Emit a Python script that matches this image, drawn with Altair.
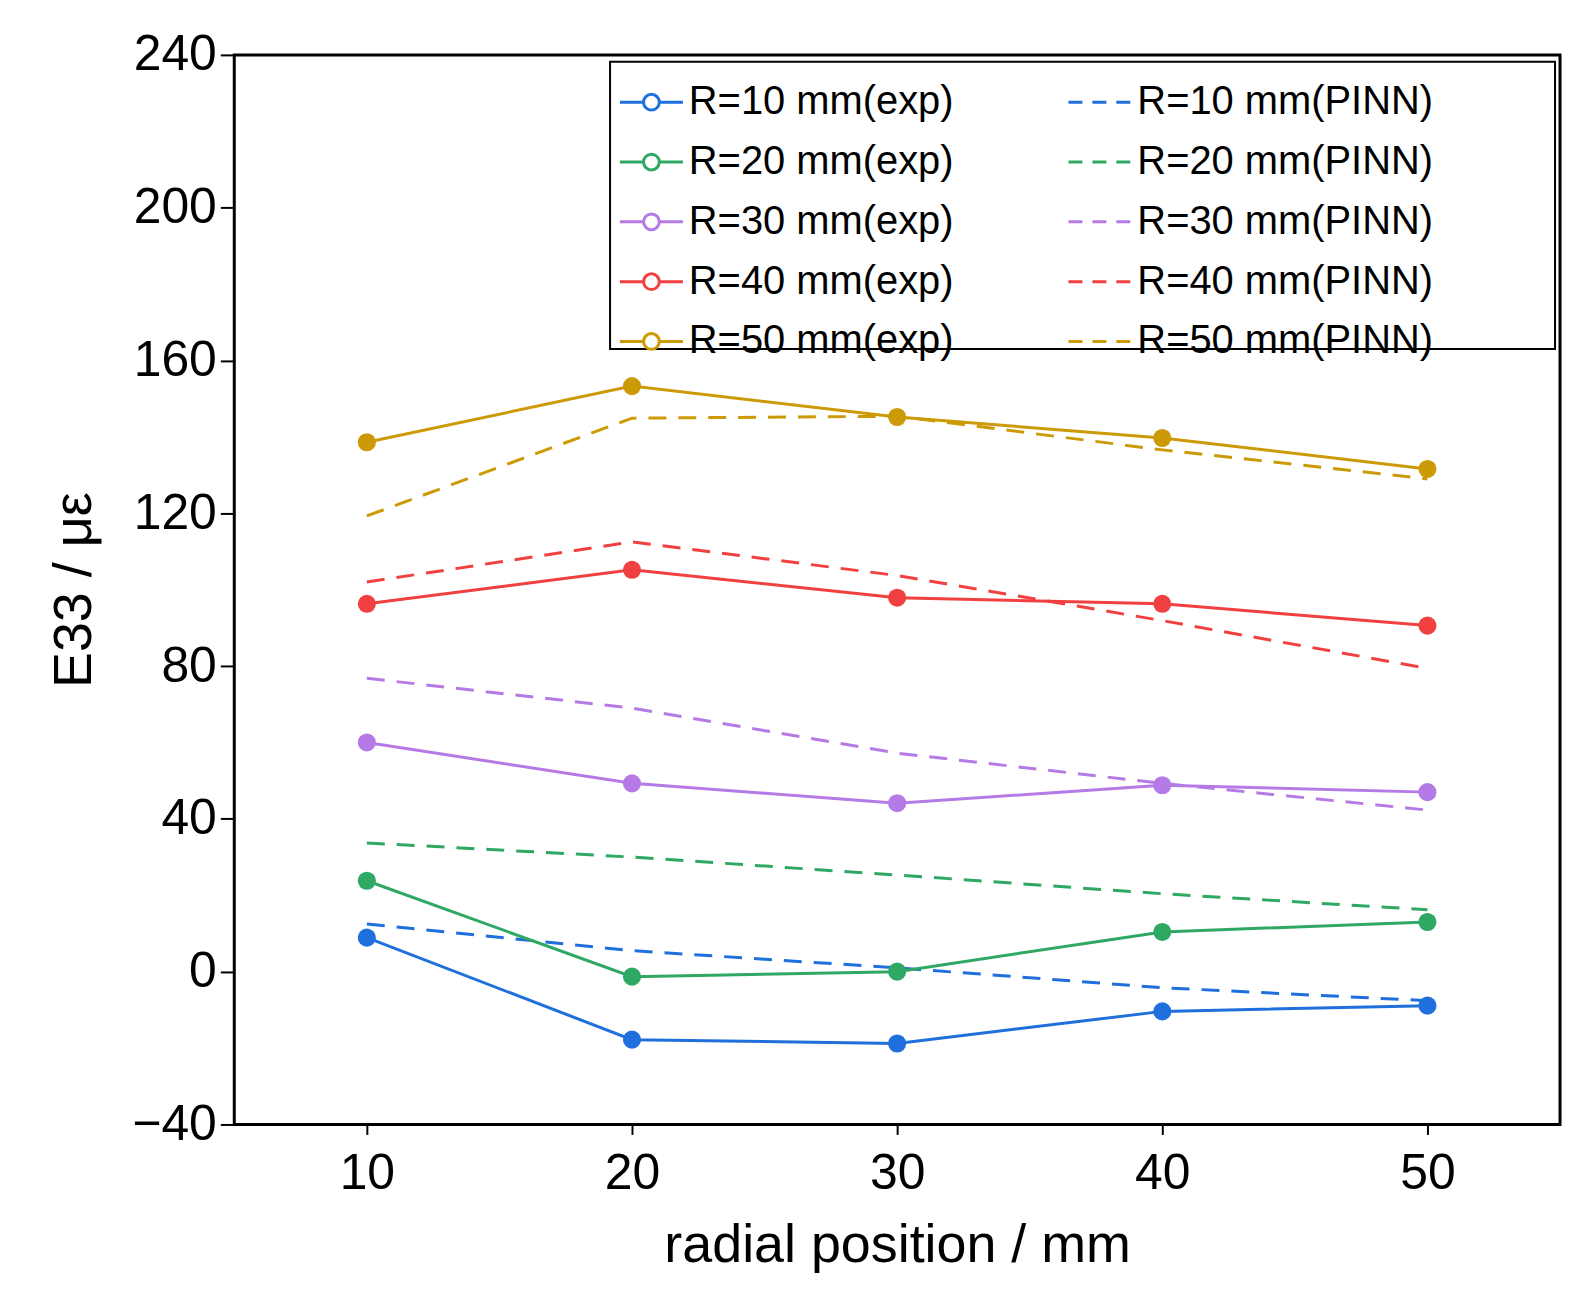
import altair as alt
import pandas as pd

x_pos = [10, 20, 30, 40, 50]
radii = ["R=10 mm", "R=20 mm", "R=30 mm", "R=40 mm", "R=50 mm"]
colors = ["#1f6fdc", "#2fa864", "#b57ae6", "#f04040", "#cc9a06"]

exp_vals = [
    [8.9, -17.8, -18.8, -10.4, -8.9],
    [23.8, -1.3, 0.0, 10.4, 13.0],
    [60.0, 49.3, 44.1, 48.8, 47.0],
    [96.3, 105.2, 97.9, 96.3, 90.6],
    [138.6, 153.3, 145.2, 139.7, 131.6],
]
pinn_vals = [
    [12.5, 5.5, 1.0, -4.2, -7.6],
    [33.7, 30.0, 25.3, 20.4, 16.2],
    [76.8, 69.0, 57.2, 49.3, 42.3],
    [102.0, 112.5, 103.7, 91.9, 79.4],
    [119.3, 144.9, 145.4, 136.6, 129.0],
]

rows = []
for r, ev, pv in zip(radii, exp_vals, pinn_vals):
    for x, e, p in zip(x_pos, ev, pv):
        rows.append({"x": x, "exp": r + "(exp)", "pinn": r + "(PINN)", "e": e, "p": p})
df = pd.DataFrame(rows)

FONT = "Liberation Sans"
W, H = 1330, 1073
xs = alt.Scale(domain=[5, 55], nice=False)
ys = alt.Scale(domain=[-40, 240], nice=False)
xax = alt.Axis(values=x_pos, grid=False, labelFontSize=50, titleFontSize=54,
               titleFontWeight="normal", titlePadding=20, labelPadding=14,
               tickSize=10, domain=False, tickWidth=2, tickColor="black",
               labelColor="black", titleColor="black", labelFont=FONT, titleFont=FONT)
yax = alt.Axis(values=list(range(-40, 241, 40)), grid=False, labelFontSize=50,
               titleFontSize=54, titleFontWeight="normal", titlePadding=30,
               labelPadding=4, tickSize=14, domain=False, tickWidth=2,
               tickColor="black", labelColor="black", titleColor="black",
               labelFont=FONT, titleFont=FONT)

circle_line = "M-1,0L-0.25,0M0.25,0L1,0M-0.25,0A0.25,0.25 0 1,1 0.25,0A0.25,0.25 0 1,1 -0.25,0Z"

exp_leg = alt.Legend(title=None, orient="none", legendX=385, legendY=14,
                     labelFontSize=40, labelFont=FONT, symbolType=circle_line,
                     symbolSize=4000, symbolStrokeWidth=3, rowPadding=6,
                     labelColor="black", labelLimit=400)
pinn_leg = alt.Legend(title=None, orient="none", legendX=835, legendY=14,
                      labelFontSize=40, labelFont=FONT, symbolType="stroke",
                      symbolSize=4000, symbolStrokeWidth=3, symbolDash=[14, 10],
                      rowPadding=6, labelColor="black", labelLimit=400)

base = alt.Chart(df)
exp_scale = alt.Scale(domain=[r + "(exp)" for r in radii], range=colors)
exp_line = base.mark_line(strokeWidth=3).encode(
    x=alt.X("x:Q", scale=xs, axis=xax, title="radial position / mm"),
    y=alt.Y("e:Q", scale=ys, axis=yax, title="E33 / με"),
    color=alt.Color("exp:N", scale=exp_scale, legend=exp_leg),
)
exp_pts = base.mark_circle(size=330, opacity=1).encode(
    x="x:Q", y="e:Q",
    color=alt.Color("exp:N", scale=exp_scale, legend=None),
)
pinn_line = base.mark_line(strokeWidth=3, strokeDash=[18, 12]).encode(
    x="x:Q", y=alt.Y("p:Q", scale=ys),
    color=alt.Color("pinn:N", scale=alt.Scale(domain=[r + "(PINN)" for r in radii], range=colors), legend=pinn_leg),
)
frame = alt.Chart(pd.DataFrame({"a": [0]})).mark_rect(
    fill="white", stroke="black", strokeWidth=2
).encode(x=alt.value(377), x2=alt.value(1325), y=alt.value(7), y2=alt.value(295))

chart = alt.layer(frame, pinn_line, exp_line, exp_pts).resolve_scale(
    color="independent"
).properties(
    width=W, height=H, background="white",
    padding={"left": 40, "top": 20, "right": 5, "bottom": 5},
).configure_view(stroke="black", strokeWidth=3)

chart.save("out.html", embed_options={"renderer": "svg", "actions": False})
